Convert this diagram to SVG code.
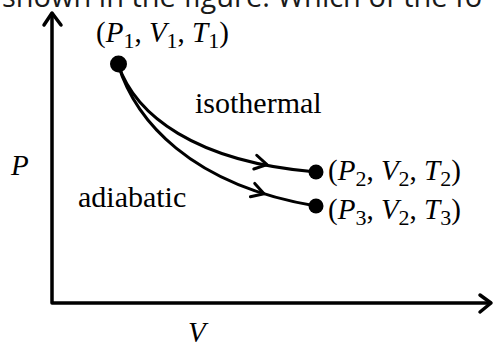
<svg xmlns="http://www.w3.org/2000/svg" xmlns:xlink="http://www.w3.org/1999/xlink" width="494" height="342" viewBox="0 0 494 342">
<style>
.ser{font-family:"Liberation Serif","Times New Roman",serif;fill:#000}
.lab{font-size:29px}
.it{font-style:italic}
.sub{font-size:22px}
.ln{fill:none;stroke:#000;stroke-width:3;stroke-linecap:round;stroke-linejoin:round}
.ax{fill:none;stroke:#000;stroke-width:3.5;stroke-linecap:round;stroke-linejoin:round}
.top{font-family:"Open Sans","Noto Sans",sans-serif;font-size:29px;fill:#1a1a1a}
</style>
<defs>
<path id="chev" d="M-12,-7 L0,0 L-12,7" class="ln"/>
</defs>
<rect width="494" height="342" fill="#fff"/>
<text class="top" x="2" y="7">shown in the figure. Which of the fo</text>
<g id="axes">
<path class="ax" d="M52,14 L52,303 L490,303"/>
<path class="ax" d="M44,25 L52,13 L61,25"/>
<path class="ax" d="M480,295 L491,303 L480,312"/>
<text class="ser lab it" x="11" y="175">P</text>
<text class="ser lab it" x="188" y="342">V</text>
</g>
<g id="connectors">
<path id="iso" class="ln" d="M118,64 C135,115 195,162 316,172"/>
<path id="adi" class="ln" d="M118,64 C135,120 190,185 316,206"/>
<use xlink:href="#chev" transform="translate(267,164.6) rotate(12)"/>
<use xlink:href="#chev" transform="translate(264,193.8) rotate(18)"/>
<text class="ser" x="195" y="113" font-size="30">isothermal</text>
<text class="ser" x="78" y="207" font-size="30">adiabatic</text>
</g>
<g id="state1">
<circle cx="118.5" cy="64" r="8.5" fill="#000"/>
<text class="ser lab" x="96" y="42">(<tspan class="it">P</tspan><tspan class="sub" dy="6">1</tspan><tspan dy="-6">, </tspan><tspan class="it">V</tspan><tspan class="sub" dy="6">1</tspan><tspan dy="-6">, </tspan><tspan class="it">T</tspan><tspan class="sub" dy="6">1</tspan><tspan dy="-6">)</tspan></text>
</g>
<g id="state2">
<circle cx="316" cy="172" r="7.5" fill="#000"/>
<text class="ser lab" x="328" y="180">(<tspan class="it">P</tspan><tspan class="sub" dy="6">2</tspan><tspan dy="-6">, </tspan><tspan class="it">V</tspan><tspan class="sub" dy="6">2</tspan><tspan dy="-6">, </tspan><tspan class="it">T</tspan><tspan class="sub" dy="6">2</tspan><tspan dy="-6">)</tspan></text>
</g>
<g id="state3">
<circle cx="316" cy="206" r="7.5" fill="#000"/>
<text class="ser lab" x="328" y="219">(<tspan class="it">P</tspan><tspan class="sub" dy="6">3</tspan><tspan dy="-6">, </tspan><tspan class="it">V</tspan><tspan class="sub" dy="6">2</tspan><tspan dy="-6">, </tspan><tspan class="it">T</tspan><tspan class="sub" dy="6">3</tspan><tspan dy="-6">)</tspan></text>
</g>
</svg>
